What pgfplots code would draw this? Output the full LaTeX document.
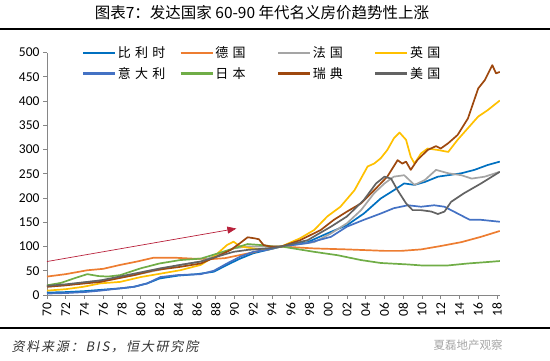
\documentclass[border=0pt]{standalone}
\usepackage{fontspec}
\setmainfont{Carlito}
\newfontfamily\cjk{Noto Sans CJK SC}
\newfontfamily\cjkls[LetterSpace=32]{Noto Sans CJK SC}
\newfontfamily\cjkit[FakeSlant=0.2,LetterSpace=14]{Noto Sans CJK SC}
\usepackage{pgfplots}
\pgfplotsset{compat=1.18}
\usetikzlibrary{arrows.meta}
\definecolor{cBE}{HTML}{0070C0}
\definecolor{cDE}{HTML}{ED7D31}
\definecolor{cFR}{HTML}{A5A5A5}
\definecolor{cUK}{HTML}{FFC000}
\definecolor{cIT}{HTML}{4472C4}
\definecolor{cJP}{HTML}{70AD47}
\definecolor{cSE}{HTML}{9E480E}
\definecolor{cUS}{HTML}{636363}
\definecolor{cArr}{HTML}{B8203A}
\definecolor{axgray}{HTML}{868686}
\newcommand{\legtxt}[1]{\makebox[60pt][l]{\cjkls #1}}
\begin{document}
\begin{tikzpicture}[x=1pt,y=1pt]
\useasboundingbox (0,0) rectangle (550,361);
\node[font=\cjk\fontsize{15.5}{16}\selectfont] at (262,348) {图表7：发达国家 60-90 年代名义房价趋势性上涨};
\draw[line width=2pt] (0,332) -- (550,332);
\draw[line width=1.5pt] (0,33) -- (550,33);
\node[anchor=west, font=\cjkit\fontsize{13}{14}\selectfont, text=black!80] at (8,14) {资料来源：BIS，恒大研究院};
\node[anchor=west, font=\cjk\fontsize{11.5}{12}\selectfont, text=black!35] at (430,16) {夏磊地产观察};
\begin{axis}[
  at={(47pt,66pt)}, anchor=south west,
  scale only axis, width=452.8pt, height=242.5pt,
  xmin=1970, xmax=2018.3, ymin=0, ymax=500,
  axis x line*=bottom, axis y line*=left,
  axis line style={color=axgray, line width=0.8pt, -},
  tick style={color=axgray, line width=0.8pt},
  tick align=outside, major tick length=4pt,
  ytick={0,50,...,500},
  xtick={1970,1972,...,2018},
  xticklabels={70,72,74,76,78,80,82,84,86,88,90,92,94,96,98,00,02,04,06,08,10,12,14,16,18},
  x tick label style={rotate=90, anchor=east, font=\fontsize{13.5}{14}\selectfont},
  y tick label style={font=\fontsize{13.5}{14}\selectfont},
  /pgf/number format/assume math mode=true,
  legend columns=4,
  legend style={draw=none, fill=none, at={(0.077,1.03)}, anchor=north west,
    inner xsep=0pt, inner ysep=0pt, column sep=0pt, row sep=5pt,
    nodes={inner sep=1.5pt, font=\fontsize{13}{14}\selectfont}},
  legend cell align=left,
  legend image code/.code={\draw[#1, line width=2.4pt] (0pt,0pt) -- (32pt,0pt);},
  every axis plot/.append style={line width=1.7pt, line join=round},
]
\addplot[cBE] coordinates {(1970,5)(1972,6)(1974,8)(1976,11)(1978,14)(1979.3,17)(1980.7,24)(1982,34)(1984,40)(1986,43)(1987.8,48)(1989.2,62)(1990.6,75)(1992,86)(1993.5,93)(1995,100)(1997.8,109)(1999.9,127)(2002,144)(2003.8,168)(2005.6,199)(2007,216)(2008.1,230)(2009.2,227)(2010.3,233)(2011.7,244)(2012.8,247)(2014.2,251)(2015.6,258)(2017,268)(2018.3,275)};
\addlegendentry{\legtxt{比利时}}
\addplot[cDE] coordinates {(1970,38)(1972,43)(1974.3,51)(1976,54)(1977.8,62)(1979.6,69)(1981.4,77)(1983.5,77)(1985.5,75)(1987.5,74)(1989,76)(1990,80)(1991,84)(1992,88)(1993,93)(1994,97)(1995,100)(1998.5,96)(2002,94)(2006,91)(2007.8,91)(2009.9,94)(2012,101)(2014.2,109)(2016.3,120)(2018.3,132)};
\addlegendentry{\legtxt{德国}}
\addplot[cFR] coordinates {(1970,17)(1972,20)(1974,26)(1976,31)(1978,37)(1979.3,41)(1982,52)(1984.2,62)(1986.4,69)(1988.1,82)(1989.9,96)(1991.4,100)(1992.8,100)(1994.2,99)(1995,100)(1998.5,109)(2000.3,127)(2002,148)(2003.5,175)(2004.9,210)(2006,230)(2007,244)(2008.1,247)(2009.2,227)(2010.3,237)(2011.5,258)(2012.8,251)(2014.2,247)(2015.3,240)(2016.7,244)(2018.3,254)};
\addlegendentry{\legtxt{法国}}
\addplot[cUK] coordinates {(1970,9)(1972,12)(1973.9,17)(1975.7,24)(1977.8,27)(1980,37)(1982.1,44)(1984.2,51)(1986.4,62)(1987.8,79)(1989.2,103)(1989.9,110)(1990.6,100)(1992,96)(1993.5,93)(1995,100)(1997,117)(1998.5,134)(1999.9,162)(2001.3,182)(2002.8,216)(2004.2,265)(2004.9,271)(2005.6,282)(2006.3,299)(2007,323)(2007.6,335)(2008.3,320)(2008.8,285)(2009.2,271)(2009.9,292)(2010.6,302)(2011.7,299)(2012.8,295)(2013.8,320)(2014.9,344)(2016,368)(2017,381)(2018.3,401)};
\addlegendentry{\legtxt{英国}}
\addplot[cIT] coordinates {(1970,3)(1972,4)(1974,6)(1975.7,9)(1977.5,13)(1979.3,17)(1980.7,24)(1982.1,37)(1983.9,41)(1986.4,43)(1987.8,50)(1989.2,65)(1990.6,79)(1992,89)(1993.5,93)(1995,100)(1997.8,107)(2000.3,120)(2002,141)(2003.8,155)(2005.6,168)(2007,179)(2008.5,185)(2009.9,182)(2011.3,185)(2012.4,182)(2013.8,168)(2015.1,155)(2016.3,155)(2018.3,151)};
\addlegendentry{\legtxt{意大利}}
\addplot[cJP] coordinates {(1970,20)(1971.5,25)(1973,35)(1974.3,43)(1975.5,39)(1976.5,38)(1977.8,41)(1980,55)(1982,65)(1984.2,72)(1986.4,75)(1988.1,85)(1989.9,96)(1991.4,105)(1992.8,103)(1994.2,100)(1995,100)(1998.5,89)(2001,82)(2003.5,72)(2005.6,66)(2008.5,63)(2009.9,61)(2012.8,61)(2014.9,65)(2017,68)(2018.3,70)};
\addlegendentry{\legtxt{日本}}
\addplot[cSE] coordinates {(1970,17)(1972,20)(1975.7,27)(1979.3,41)(1981.4,51)(1984.2,58)(1986.4,65)(1988.1,79)(1989.6,93)(1990.6,107)(1991.4,119)(1992.1,117)(1992.6,115)(1993.1,103)(1993.8,100)(1995,100)(1997,113)(1999.2,134)(2000.6,155)(2002,172)(2003.5,189)(2004.9,216)(2006.3,244)(2007.4,278)(2007.9,271)(2008.3,275)(2008.8,258)(2009.5,278)(2010.6,299)(2011.5,307)(2012,302)(2012.8,313)(2013.8,330)(2014.9,364)(2016,426)(2016.7,443)(2017.5,474)(2017.9,457)(2018.3,460)};
\addlegendentry{\legtxt{瑞典}}
\addplot[cUS] coordinates {(1970,19)(1972,22)(1975.7,30)(1979.3,44)(1982.1,55)(1984.2,62)(1986.4,69)(1988.1,79)(1989.9,89)(1991.4,93)(1993.5,96)(1995,100)(1997.8,113)(2000.3,141)(2002,162)(2003.8,196)(2005.1,230)(2006,244)(2006.7,240)(2007.4,216)(2008.3,189)(2009,175)(2009.9,175)(2011,172)(2011.7,167)(2012.4,172)(2013.1,192)(2014.5,210)(2016.3,230)(2018.3,254)};
\addlegendentry{\legtxt{美国}}
\addplot[cArr, line width=0.7pt, forget plot, -{Triangle[length=9pt,width=7pt]}] coordinates {(1970,69)(1990.2,137)};
\end{axis}
\end{tikzpicture}
\end{document}
